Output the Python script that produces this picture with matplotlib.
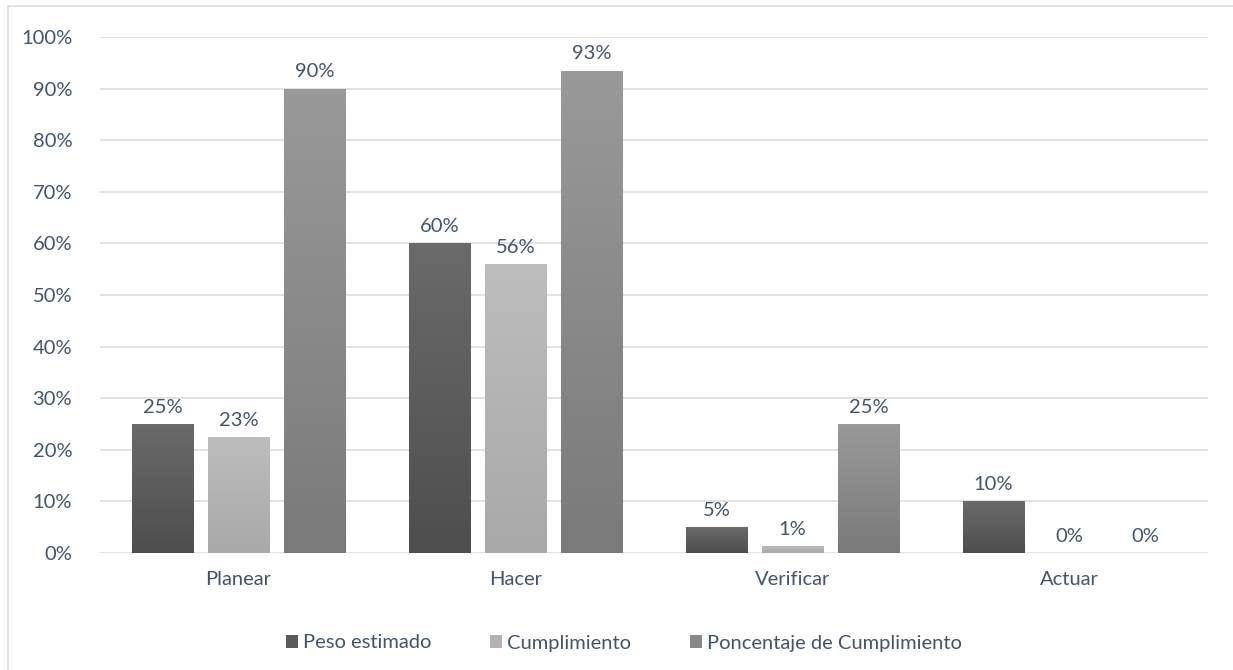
import matplotlib
matplotlib.use("Agg")
import matplotlib.pyplot as plt
import numpy as np
from matplotlib.patches import Rectangle

categories = ["Planear", "Hacer", "Verificar", "Actuar"]
peso = [25, 60, 5, 10]
cumplimiento = [22.5, 56, 1.4, 0]
porcentaje = [90, 93.5, 25, 0]
labels_peso = ["25%", "60%", "5%", "10%"]
labels_cump = ["23%", "56%", "1%", "0%"]
labels_porc = ["90%", "93%", "25%", "0%"]
series_names = ["Peso estimado", "Cumplimiento", "Poncentaje de Cumplimiento"]
yticks = [0, 10, 20, 30, 40, 50, 60, 70, 80, 90, 100]

plt.rcParams['font.family'] = ['Lato', 'DejaVu Sans']
txt = "#44546A"
fs = 14.5

fig = plt.figure(figsize=(12.33, 6.70), dpi=100)
# outer frame (right and bottom edges fall outside the picture)
fig.patches.append(Rectangle((8/1233, -0.05), 1.1, 1.05 - 6/670, transform=fig.transFigure,
                             fill=False, edgecolor="#d9dde5", linewidth=1.2))
ax = fig.add_axes([100/1233, 1 - 553/670, 1108/1233, (553 - 37)/670])

x = np.arange(len(categories))
w = 62/277
gap = 14/277
offs = [-(w + gap), 0, (w + gap)]
colors = ["#5a5a5a", "#b3b3b3", "#888888"]
tops = [("#6a6a6a", "#4e4e4e"), ("#bdbdbd", "#a9a9a9"), ("#999999", "#7a7a7a")]
data = [peso, cumplimiento, porcentaje]
labs = [labels_peso, labels_cump, labels_porc]

for i in range(3):
    bars = ax.bar(x + offs[i], data[i], w, color=colors[i], label=series_names[i], zorder=2)
    c1 = np.array(matplotlib.colors.to_rgb(tops[i][0]))
    c2 = np.array(matplotlib.colors.to_rgb(tops[i][1]))
    grad = np.linspace(0, 1, 100)[:, None, None]
    img = c1 * (1 - grad) + c2 * grad
    for b in bars:
        if b.get_height() <= 0:
            continue
        bx, by = b.get_x(), b.get_y()
        im = ax.imshow(img, extent=[bx, bx + b.get_width(), by, by + b.get_height()],
                       aspect='auto', zorder=2.5, origin='upper')
        im.set_clip_path(b)
    for xi, v, l in zip(x + offs[i], data[i], labs[i]):
        ax.text(xi, v + 1.6, l, ha='center', va='bottom', fontsize=fs, color=txt, zorder=3)

ax.set_xlim(-0.5, 3.5)
ax.set_ylim(0, 100)
ax.set_yticks(yticks)
ax.set_yticklabels([f"{t}%" for t in yticks], fontsize=fs, color=txt)
ax.set_xticks(x)
ax.set_xticklabels(categories, fontsize=fs, color=txt)
ax.tick_params(axis='both', length=0)
ax.tick_params(axis='x', pad=13)
ax.tick_params(axis='y', pad=20)
ax.grid(axis='y', color="#d9dde5", linewidth=1.2, zorder=0)
ax.set_axisbelow(True)
for s in ax.spines.values():
    s.set_visible(False)

leg = fig.legend(loc='center', bbox_to_anchor=(624/1233, 1 - 643/670), ncol=3, frameon=False,
                 fontsize=fs, handlelength=0.6, handleheight=0.6, handletextpad=0.25, columnspacing=2.9)
for t in leg.get_texts():
    t.set_color(txt)

fig.savefig("out.png", dpi=100)
